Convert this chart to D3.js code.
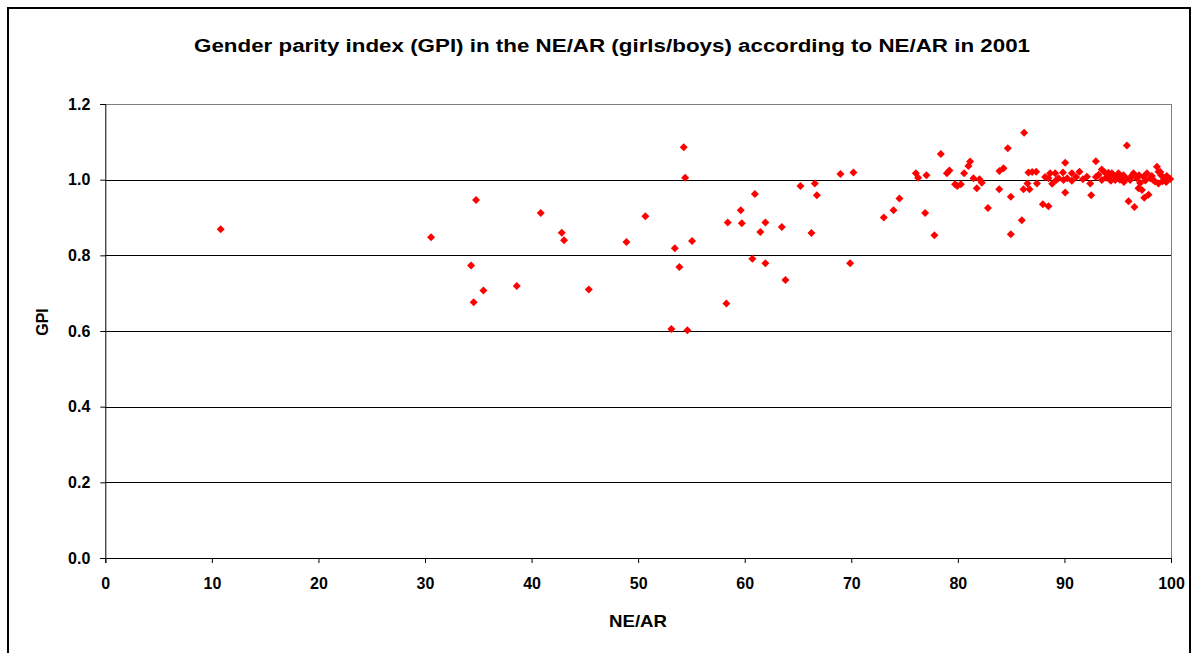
<!DOCTYPE html>
<html>
<head>
<meta charset="utf-8">
<script src="https://cdn.jsdelivr.net/npm/d3@7"></script>
<style>
  html, body { margin: 0; padding: 0; background: #fff; }
  svg { display: block; }
  text { font-family: "Liberation Sans", Arial, sans-serif; font-weight: bold; fill: #000; }
</style>
</head>
<body>
<svg id="chart" width="1198" height="653"></svg>
<script>
// ---- Data ----
const titleText = "Gender parity index (GPI) in the NE/AR (girls/boys) according to NE/AR in 2001";
const xLabel = "NE/AR";
const yLabel = "GPI";
const xTicks = [0, 10, 20, 30, 40, 50, 60, 70, 80, 90, 100];
const yTicks = [0.0, 0.2, 0.4, 0.6, 0.8, 1.0, 1.2];

// NE/AR values (x)
const nearValues = [
  10.83, 30.57, 34.79, 34.32, 34.57, 35.48, 38.61, 40.86, 42.83, 43.05,
  45.37, 48.90, 50.68, 53.12, 53.44, 53.87, 54.28, 54.41, 54.62, 55.06,
  58.28, 58.41, 59.63, 59.73, 60.72, 60.95, 61.47, 61.94, 61.94, 63.48,
  63.82, 65.23, 66.26, 66.58, 66.77, 68.98, 69.89, 70.20, 73.05, 73.96,
  74.52, 76.06, 76.27, 76.93, 77.05, 77.80, 78.40, 78.97, 79.21, 79.74,
  80.28, 79.94, 80.59, 80.99, 81.15, 81.46, 82.03, 82.25, 81.78, 82.82,
  83.88, 83.90, 84.28, 84.69, 84.97, 84.97, 86.00, 86.22, 86.16, 86.53,
  86.72, 86.62, 86.97, 87.35, 87.42, 87.98, 88.50, 88.50, 88.66, 89.13,
  89.23, 89.45, 89.86, 90.07, 90.07, 89.91, 90.70, 90.70, 91.41, 91.73,
  92.11, 92.42, 92.51, 92.95, 93.50, 93.82, 94.13, 94.45, 94.76, 94.98,
  95.07, 95.33, 95.54, 95.86, 96.01, 96.57, 96.48, 96.17, 96.80, 96.95,
  97.27, 97.42, 97.74, 97.89, 97.49, 98.05, 98.33, 98.68, 98.83, 98.83,
  99.08, 99.37, 99.77, 99.93, 94.35, 95.58, 94.17, 92.95, 93.51, 90.26,
  91.10, 88.85, 88.19, 99.00, 99.55, 97.10, 95.20, 95.80, 96.30, 97.00,
  97.60, 98.20, 98.50, 99.20, 99.60, 93.20, 93.90, 94.60
];
// GPI values (y)
const gpiValues = [
  0.869, 0.848, 0.946, 0.773, 0.676, 0.707, 0.719, 0.912, 0.860, 0.840,
  0.710, 0.835, 0.903, 0.605, 0.819, 0.769, 1.086, 1.005, 0.602, 0.838,
  0.673, 0.887, 0.919, 0.885, 0.791, 0.962, 0.862, 0.887, 0.779, 0.875,
  0.735, 0.983, 0.859, 0.990, 0.959, 1.015, 0.779, 1.019, 0.900, 0.919,
  0.950, 1.017, 1.005, 0.912, 1.012, 0.853, 1.068, 1.017, 1.024, 0.988,
  0.988, 0.983, 1.017, 1.036, 1.048, 1.004, 1.001, 0.992, 0.977, 0.925,
  0.975, 1.023, 1.030, 1.083, 0.955, 0.856, 0.893, 1.124, 0.975, 0.990,
  0.975, 1.019, 1.020, 1.021, 0.990, 0.935, 0.930, 1.004, 1.017, 1.017,
  0.999, 1.004, 1.019, 1.045, 0.966, 0.999, 1.017, 0.997, 1.021, 1.001,
  1.008, 0.990, 0.959, 1.049, 1.027, 1.018, 1.018, 1.017, 0.999, 1.010,
  1.017, 1.004, 1.012, 1.090, 0.943, 0.928, 1.017, 0.999, 1.004, 0.977,
  0.973, 1.008, 1.017, 0.960, 0.952, 1.004, 0.999, 1.034, 1.021, 0.990,
  1.012, 1.002, 1.004, 1.002, 0.997, 0.994, 1.007, 1.007, 0.999, 1.004,
  1.007, 0.989, 1.007, 1.020, 0.994, 0.991, 1.000, 1.003, 1.010, 1.012,
  0.998, 1.010, 0.995, 0.996, 1.010, 1.013, 1.005, 1.012
];

// ---- Layout ----
const svg = d3.select("#chart");
const plot = { left: 105.3, right: 1171, top: 104, bottom: 558 };

const x = d3.scaleLinear().domain([0, 100]).range([plot.left, plot.right]);
const y = d3.scaleLinear().domain([0, 1.2]).range([plot.bottom, plot.top]);

// Outer frame
svg.append("rect")
  .attr("x", 8).attr("y", 8).attr("width", 1182).attr("height", 700)
  .attr("fill", "#fff").attr("stroke", "#000").attr("stroke-width", 2);

// Title
svg.append("text")
  .attr("x", 612).attr("y", 52)
  .attr("text-anchor", "middle")
  .attr("textLength", 836)
  .attr("lengthAdjust", "spacingAndGlyphs")
  .style("font-size", "18px")
  .text(titleText);

// Gridlines
svg.append("g")
  .selectAll("line")
  .data(yTicks.filter(d => d > 0))
  .join("line")
  .attr("x1", plot.left).attr("x2", plot.right)
  .attr("y1", d => Math.round(y(d)) + 0.5).attr("y2", d => Math.round(y(d)) + 0.5)
  .attr("stroke", d => d === 1.2 ? "#808080" : "#000")
  .attr("stroke-width", 1);

// Right border of plot area
svg.append("line")
  .attr("x1", Math.round(plot.right) + 0.5).attr("x2", Math.round(plot.right) + 0.5)
  .attr("y1", plot.top).attr("y2", plot.bottom)
  .attr("stroke", "#808080");

// Y axis
const yAxis = d3.axisLeft(y).tickValues(yTicks).tickFormat(d3.format(".1f"))
  .tickSize(5).tickPadding(10);
const gy = svg.append("g").attr("transform", `translate(${plot.left},0)`).call(yAxis);
gy.select(".domain").attr("stroke", "#000");
gy.selectAll(".tick line").attr("stroke", "#000");
gy.selectAll(".tick text").style("font-size", "16px")
  .attr("font-family", null).attr("font-size", null);

// X axis
const xAxis = d3.axisBottom(x).tickValues(xTicks).tickFormat(d3.format("d"))
  .tickSize(5).tickPadding(15);
const gx = svg.append("g").attr("transform", `translate(0,${plot.bottom})`).call(xAxis);
gx.select(".domain").attr("stroke", "#000");
gx.selectAll(".tick line").attr("stroke", "#000");
gx.selectAll(".tick text").style("font-size", "16px")
  .attr("font-family", null).attr("font-size", null);

// Axis titles
svg.append("text")
  .attr("x", 638).attr("y", 627)
  .attr("text-anchor", "middle")
  .attr("textLength", 58)
  .attr("lengthAdjust", "spacingAndGlyphs")
  .style("font-size", "17px")
  .text(xLabel);

svg.append("text")
  .attr("transform", "translate(48,322) rotate(-90)")
  .attr("text-anchor", "middle")
  .style("font-size", "16px")
  .text(yLabel);

// Points
const points = nearValues.map((v, i) => ({ x: v, y: gpiValues[i] }));
const diamond = d3.symbol().type(d3.symbolSquare).size(32);
svg.append("g")
  .selectAll("path")
  .data(points)
  .join("path")
  .attr("d", diamond)
  .attr("transform", d => `translate(${x(d.x)},${y(d.y)}) rotate(45)`)
  .attr("fill", "#ff0000");
</script>
</body>
</html>
